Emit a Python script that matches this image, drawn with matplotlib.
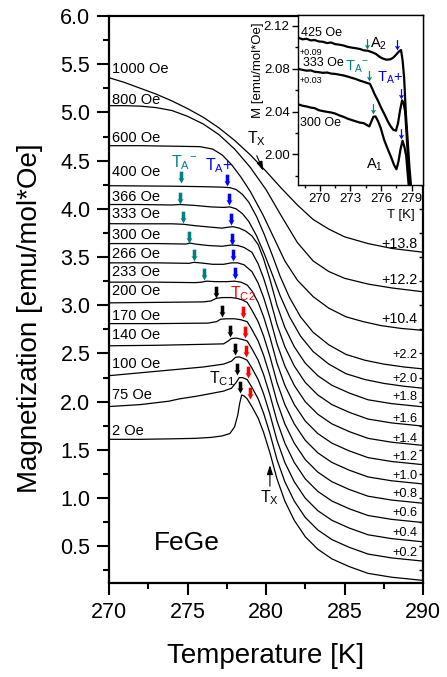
import matplotlib
matplotlib.use("Agg")
import matplotlib.pyplot as plt
from matplotlib.path import Path
from matplotlib.ticker import MultipleLocator, FormatStrFormatter

plt.rcParams['font.family'] = ['Liberation Sans', 'DejaVu Sans']
plt.rcParams['mathtext.default'] = 'regular'

# ---------------- main panel data: M/H vs T for each field ----------------
T_TAIL = [278.8, 279.1, 279.5, 279.85, 280.25, 280.7, 281.2, 281.8, 282.5,
          283.3, 284.2, 285.3, 286.5, 288.0, 290.0]

T_2 = [270, 272, 274, 275.5, 276.5, 277.2, 277.7, 278.0, 278.2, 278.32, 278.45, 278.6] + T_TAIL
M_2 = [1.61, 1.61, 1.615, 1.62, 1.63, 1.645, 1.67, 1.74, 1.86, 1.98, 2.07, 2.06,
       2.03, 1.95, 1.83, 1.68, 1.47, 1.20, 0.97, 0.77, 0.60, 0.47, 0.37, 0.29, 0.22, 0.18, 0.147]

T_75 = [270, 272, 273.8, 274.5, 275.5, 276.5, 277.3, 277.8, 278.1, 278.3, 278.5] + T_TAIL
M_75 = [1.95, 1.97, 2.005, 2.03, 2.055, 2.085, 2.11, 2.14, 2.20, 2.25, 2.25,
        2.23, 2.15, 2.03, 1.88, 1.67, 1.40, 1.17, 0.97, 0.80, 0.67, 0.57, 0.49, 0.42, 0.38, 0.347]

T_100 = [270, 272, 274, 276, 277.3, 277.8, 278.05, 278.3, 278.55] + T_TAIL
M_100 = [2.27, 2.30, 2.33, 2.36, 2.39, 2.42, 2.46, 2.465, 2.45,
         2.43, 2.35, 2.23, 2.08, 1.87, 1.60, 1.37, 1.17, 1.00, 0.87, 0.77, 0.69, 0.62, 0.58, 0.547]

T_140 = [270, 273, 276, 277.3, 277.55, 277.8, 278.1, 278.5] + T_TAIL
M_140 = [2.58, 2.585, 2.595, 2.60, 2.625, 2.655, 2.66, 2.645,
         2.63, 2.55, 2.43, 2.28, 2.07, 1.80, 1.57, 1.37, 1.20, 1.07, 0.97, 0.89, 0.82, 0.78, 0.747]

T_170 = [270, 273, 276.3, 276.85, 277.1, 277.5, 278.0, 278.4] + T_TAIL
M_170 = [2.81, 2.81, 2.815, 2.83, 2.855, 2.86, 2.86, 2.85,
         2.83, 2.75, 2.63, 2.48, 2.27, 2.00, 1.77, 1.57, 1.40, 1.27, 1.17, 1.09, 1.02, 0.98, 0.947]

T_200 = [270, 273, 276.0, 276.5, 276.8, 277.2, 277.8, 278.2, 278.5] + T_TAIL
M_200 = [3.025, 3.03, 3.035, 3.045, 3.07, 3.08, 3.08, 3.07, 3.055,
         3.03, 2.95, 2.83, 2.68, 2.47, 2.20, 1.97, 1.77, 1.60, 1.47, 1.37, 1.29, 1.22, 1.18, 1.147]

T_233 = [270, 273, 275.5, 275.9, 276.2, 276.8, 277.5, 278.0, 278.4, 278.8] + T_TAIL[1:]
M_233 = [3.24, 3.24, 3.235, 3.24, 3.25, 3.245, 3.245, 3.25, 3.24, 3.21,
         3.15, 3.03, 2.88, 2.67, 2.40, 2.17, 1.97, 1.80, 1.67, 1.57, 1.49, 1.42, 1.38, 1.347]

T_266 = [270, 273, 275.1, 275.4, 275.8, 276.6, 277.3, 277.8, 278.2, 278.6] + T_TAIL[1:]
M_266 = [3.44, 3.44, 3.435, 3.445, 3.44, 3.425, 3.425, 3.44, 3.44, 3.42,
         3.35, 3.23, 3.08, 2.87, 2.60, 2.37, 2.17, 2.00, 1.87, 1.77, 1.69, 1.62, 1.58, 1.547]

T_300 = [270, 273, 274.9, 275.15, 275.5, 276.3, 277.2, 277.8, 278.2, 278.6] + T_TAIL[1:]
M_300 = [3.64, 3.64, 3.635, 3.645, 3.635, 3.62, 3.612, 3.625, 3.62, 3.60,
         3.55, 3.43, 3.28, 3.07, 2.80, 2.57, 2.37, 2.20, 2.07, 1.97, 1.89, 1.82, 1.78, 1.747]

T_333 = [270, 272, 274, 274.75, 275.5, 276.5, 277.2, 277.6, 277.9, 278.3, 278.7, 279.1] + T_TAIL[2:]
M_333 = [3.846, 3.845, 3.845, 3.84, 3.825, 3.81, 3.80, 3.81, 3.815, 3.80, 3.77, 3.72,
         3.63, 3.48, 3.27, 3.00, 2.77, 2.57, 2.40, 2.27, 2.17, 2.09, 2.02, 1.98, 1.947]

T_366 = [270, 272, 274, 274.5, 275.5, 276.5, 277.3, 277.7, 278.1, 278.5, 278.9, 279.4,
         279.9, 280.4, 280.9, 281.5, 282.2, 283, 284, 285.1, 286.3, 287.5, 288.8, 290]
M_366 = [4.045, 4.045, 4.04, 4.045, 4.035, 4.02, 4.015, 4.02, 4.00, 3.95, 3.87, 3.72,
         3.53, 3.32, 3.10, 2.88, 2.68, 2.52, 2.39, 2.29, 2.23, 2.19, 2.16, 2.14]

T_400 = [270, 274, 276, 277.2, 277.7, 278.1, 278.5, 278.9, 279.4, 279.9, 280.4, 280.9,
         281.5, 282.2, 283, 284, 285.1, 286.3, 287.5, 288.8, 290]
M_400 = [4.24, 4.235, 4.23, 4.225, 4.22, 4.20, 4.15, 4.07, 3.92, 3.73, 3.52, 3.30,
         3.08, 2.88, 2.72, 2.59, 2.49, 2.43, 2.39, 2.36, 2.34]

T_600 = [270, 272, 274, 275.8, 276.6, 277.2, 277.8, 278.4, 279.0, 279.8, 280.5, 281.2,
         282, 283, 284, 285.1, 286.2, 287.3, 288.6, 290]
M_600 = [4.655, 4.655, 4.65, 4.645, 4.62, 4.56, 4.46, 4.33, 4.18, 3.94, 3.70, 3.46,
         3.26, 3.09, 2.97, 2.88, 2.83, 2.79, 2.76, 2.74]

T_800 = [270, 271, 272, 273, 274, 275, 276, 277, 278, 279, 280, 281, 282, 283, 284, 285, 286.5, 288, 290]
M_800 = [5.07, 5.07, 5.065, 5.05, 5.02, 4.96, 4.88, 4.77, 4.62, 4.43, 4.20, 3.92, 3.65,
         3.46, 3.35, 3.28, 3.22, 3.18, 3.14]

T_1000 = [270, 271, 272, 273, 274, 275, 276, 277, 278, 279, 280, 281, 282, 283, 284, 285, 286.5, 288, 290]
M_1000 = [5.36, 5.31, 5.25, 5.19, 5.12, 5.04, 4.95, 4.84, 4.71, 4.56, 4.39, 4.21, 4.04,
          3.89, 3.79, 3.71, 3.64, 3.59, 3.55]

field_labels = ['1000 Oe', '800 Oe', '600 Oe', '400 Oe', '366 Oe', '333 Oe', '300 Oe',
                '266 Oe', '233 Oe', '200 Oe', '170 Oe', '140 Oe', '100 Oe', '75 Oe', '2 Oe']
field_label_M = [5.454, 5.130, 4.734, 4.378, 4.119, 3.942, 3.730, 3.533, 3.343, 3.143,
                 2.894, 2.687, 2.394, 2.071, 1.697]

shift_labels = ['+13.8', '+12.2', '+10.4', '+2.2', '+2.0', '+1.8', '+1.6', '+1.4',
                '+1.2', '+1.0', '+0.8', '+0.6', '+0.4', '+0.2']
shift_label_M = [3.637, 3.257, 2.853, 2.480, 2.239, 2.049, 1.825, 1.618, 1.428, 1.228,
                 1.038, 0.842, 0.635, 0.434]

# transition markers (arrow tips)
TA_minus_T = [274.57, 274.52, 274.73, 275.11, 275.41, 276.05]
TA_minus_M = [4.265, 4.055, 3.855, 3.65, 3.455, 3.265]
TA_plus_T = [277.5, 277.66, 277.75, 277.85, 277.92, 278.03]
TA_plus_M = [4.24, 4.04, 3.83, 3.63, 3.455, 3.27]
TC1_T = [276.8, 277.18, 277.7, 278.03, 278.17, 278.34]
TC1_M = [3.08, 2.875, 2.675, 2.485, 2.28, 2.09]
TC2_T = [278.55, 278.66, 278.73, 278.87, 278.98]
TC2_M = [2.87, 2.665, 2.465, 2.25, 2.03]

# ---------------- inset data ----------------
Ti_425 = [267.9, 268.3, 268.7, 269.1, 269.5, 269.9, 270.3, 270.7, 271.1, 271.5, 271.9, 272.3,
          272.7, 273.1, 273.5, 273.9, 274.3, 274.7, 275.1, 275.5, 275.8, 276.1, 276.5, 276.9,
          277.2, 277.5, 277.75, 277.95, 278.1, 278.25, 278.43, 278.6, 278.75, 278.95]
Mi_425 = [2.109, 2.1075, 2.108, 2.1065, 2.1068, 2.1055, 2.1052, 2.104, 2.1045, 2.103, 2.1025,
          2.1018, 2.1005, 2.0998, 2.0992, 2.0985, 2.0972, 2.0968, 2.0955, 2.0938, 2.0915, 2.0898,
          2.0885, 2.0888, 2.0905, 2.0935, 2.0962, 2.0975, 2.088, 2.072, 2.037, 2.013, 1.991, 1.968]

Ti_333 = [267.9, 268.3, 268.7, 269.1, 269.5, 269.9, 270.3, 270.7, 271.1, 271.5, 271.9, 272.3,
          272.7, 273.1, 273.5, 273.9, 274.3, 274.7, 274.9, 275.1, 275.35, 275.7, 276.0, 276.35,
          276.65, 276.95, 277.2, 277.45, 277.65, 277.85, 278.05, 278.2, 278.35, 278.5, 278.65, 278.8]
Mi_333 = [2.0798, 2.079, 2.0782, 2.0785, 2.0772, 2.0768, 2.0762, 2.0765, 2.0755, 2.0752, 2.0745,
          2.0738, 2.0728, 2.0716, 2.0705, 2.069, 2.0678, 2.0665, 2.066, 2.062, 2.0565, 2.050,
          2.0436, 2.037, 2.031, 2.026, 2.023, 2.0222, 2.029, 2.041, 2.0505, 2.048, 2.040, 2.018,
          1.992, 1.969]

Ti_300 = [267.9, 268.3, 268.7, 269.1, 269.5, 269.9, 270.3, 270.7, 271.1, 271.5, 271.9, 272.3,
          272.7, 273.1, 273.5, 273.9, 274.3, 274.6, 274.85, 275.05, 275.25, 275.45, 275.7, 275.95,
          276.3, 276.65, 277.0, 277.25, 277.5, 277.7, 277.9, 278.1, 278.28, 278.45, 278.6, 278.72]
Mi_300 = [2.0467, 2.0455, 2.0448, 2.0438, 2.0432, 2.0413, 2.0405, 2.0398, 2.0392, 2.0382, 2.0365,
          2.0352, 2.0335, 2.0322, 2.0310, 2.0298, 2.0292, 2.0275, 2.0262, 2.031, 2.0352, 2.0355,
          2.031, 2.025, 2.0135, 2.005, 1.997, 1.9905, 1.9862, 1.9935, 2.005, 2.0128, 2.007, 1.999,
          1.982, 1.969]

inset_TAm_T = [274.64, 274.8, 275.19]
inset_TAm_M = [2.0985, 2.0685, 2.0375]
inset_TAp_T = [277.6, 277.95, 277.98]
inset_TAp_M = [2.0975, 2.0515, 2.0145]

TEAL = '#008080'
BLUE = '#0000ff'
RED = '#ff0000'

# down-pointing arrow glyph with its tip at the origin
arrow_verts = [(0, 0), (0.52, 0.95), (0.3, 0.82), (0.3, 2.0), (-0.3, 2.0),
               (-0.3, 0.82), (-0.52, 0.95), (0, 0)]
arrow_codes = [Path.MOVETO] + [Path.LINETO] * 6 + [Path.CLOSEPOLY]
down_arrow = Path(arrow_verts, arrow_codes)

# thinner variant with a narrow shaft for the inset
thin_verts = [(0, 0), (0.5, 0.9), (0.12, 0.75), (0.12, 2.0), (-0.12, 2.0),
              (-0.12, 0.75), (-0.5, 0.9), (0, 0)]
thin_arrow = Path(thin_verts, arrow_codes)

fig = plt.figure(figsize=(4.47, 6.77), dpi=100)
ax = fig.add_axes([0.24385, 0.13885, 0.70246, 0.83753])

curves = [(T_1000, M_1000), (T_800, M_800), (T_600, M_600), (T_400, M_400),
          (T_366, M_366), (T_333, M_333), (T_300, M_300), (T_266, M_266),
          (T_233, M_233), (T_200, M_200), (T_170, M_170), (T_140, M_140),
          (T_100, M_100), (T_75, M_75), (T_2, M_2)]
for T, M in curves:
    ax.plot(T, M, color='black', lw=0.9, solid_joinstyle='round')

for lab, m in zip(field_labels, field_label_M):
    ax.text(270.22, m, lab, fontsize=10.5, ha='left', va='center')

for lab, m in zip(shift_labels, shift_label_M):
    size = 10.3 if float(lab) > 5 else 9.2
    ax.text(289.62, m, lab, fontsize=size, ha='right', va='center')

ax.plot(TA_minus_T, TA_minus_M, ls='none', marker=down_arrow, ms=17, color=TEAL, mew=0)
ax.plot(TA_plus_T, TA_plus_M, ls='none', marker=down_arrow, ms=17, color=BLUE, mew=0)
ax.plot(TC1_T, TC1_M, ls='none', marker=down_arrow, ms=17, color='black', mew=0)
ax.plot(TC2_T, TC2_M, ls='none', marker=down_arrow, ms=17, color=RED, mew=0)

ax.text(274.78, 4.478, r'$T_{A}{}^{-}$', color=TEAL, fontsize=11.5, ha='center', va='center')
ax.text(277.0, 4.447, r'$T_{A}$+', color=BLUE, fontsize=11.5, ha='center', va='center')
ax.text(278.54, 3.122, r'$T_{C2}$', color=RED, fontsize=11.5, ha='center', va='center')
ax.text(277.2, 2.242, r'$T_{C1}$', color='black', fontsize=11.5, ha='center', va='center')

xarrow = dict(arrowstyle='-|>,head_width=0.18,head_length=0.55', color='black', lw=0.8,
              shrinkA=0, shrinkB=0, mutation_scale=10)
ax.annotate('', xy=(279.83, 4.395), xytext=(279.41, 4.551), arrowprops=xarrow)
ax.text(279.43, 4.727, r'$T_{X}$', fontsize=11.5, ha='center', va='center')
ax.annotate('', xy=(280.25, 1.342), xytext=(280.25, 1.124), arrowprops=xarrow)
ax.text(280.25, 1.0, r'$T_{X}$', fontsize=11.5, ha='center', va='center')

ax.text(274.95, 0.534, 'FeGe', fontsize=19, ha='center', va='center')

ax.set_xlim(270, 290)
ax.set_ylim(0.12, 6.0)
ax.xaxis.set_major_locator(MultipleLocator(5))
ax.xaxis.set_minor_locator(MultipleLocator(2.5))
ax.yaxis.set_major_locator(MultipleLocator(0.5))
ax.yaxis.set_minor_locator(MultipleLocator(0.25))
ax.tick_params(which='both', direction='out', top=False, right=False, width=1.5)
ax.tick_params(which='major', length=8.5, labelsize=15.5)
ax.tick_params(which='minor', length=4.5)
ax.tick_params(axis='y', pad=5)
ax.tick_params(axis='x', pad=5)
for s in ax.spines.values():
    s.set_linewidth(1.6)

ax.set_xlabel('Temperature [K]', fontsize=20)
ax.xaxis.set_label_coords(0.5, -0.105)
ax.set_ylabel('Magnetization [emu/mol*Oe]', fontsize=20, va='center')
ax.yaxis.set_label_coords(-0.252, 0.467)

# inward ticks on the right-hand frame
ax_r = ax.twinx()
ax_r.set_ylim(ax.get_ylim())
ax_r.yaxis.set_major_locator(MultipleLocator(0.5))
ax_r.yaxis.set_minor_locator(MultipleLocator(0.25))
ax_r.tick_params(which='both', direction='in', length=3, width=1.0, labelright=False)
for s in ax_r.spines.values():
    s.set_visible(False)

# ---------------- inset ----------------
axi = fig.add_axes([0.66667, 0.72674, 0.27964, 0.25111])
axi.set_facecolor('white')
axi.plot(Ti_425, Mi_425, color='black', lw=1.6)
axi.plot(Ti_333, Mi_333, color='black', lw=1.6)
axi.plot(Ti_300, Mi_300, color='black', lw=1.6)
axi.plot(inset_TAm_T, inset_TAm_M, ls='none', marker=thin_arrow, ms=15, color=TEAL, mew=0)
axi.plot(inset_TAp_T, inset_TAp_M, ls='none', marker=thin_arrow, ms=15, color=BLUE, mew=0)

axi.text(268.12, 2.113, '425 Oe', fontsize=9, ha='left', va='center')
axi.text(268.05, 2.0952, '+0.09', fontsize=6.5, ha='left', va='center')
axi.text(268.35, 2.0852, '333 Oe', fontsize=9, ha='left', va='center')
axi.text(268.05, 2.0694, '+0.03', fontsize=6.5, ha='left', va='center')
axi.text(268.05, 2.029, '300 Oe', fontsize=9, ha='left', va='center')
axi.text(275.74, 2.1033, r'$A_2$', fontsize=10.5, ha='center', va='center')
axi.text(275.35, 1.990, r'$A_1$', fontsize=10.5, ha='center', va='center')
axi.text(273.65, 2.0821, r'$T_{A}{}^{-}$', color=TEAL, fontsize=10.5, ha='center', va='center')
axi.text(276.89, 2.072, r'$T_{A}$+', color=BLUE, fontsize=10.5, ha='center', va='center')

axi.set_xlim(267.86, 280.1)
axi.set_ylim(1.9715, 2.1302)
axi.xaxis.set_major_locator(MultipleLocator(3))
axi.xaxis.set_minor_locator(MultipleLocator(1.5))
axi.yaxis.set_major_locator(MultipleLocator(0.04))
axi.yaxis.set_minor_locator(MultipleLocator(0.02))
axi.tick_params(which='both', direction='out', top=False, right=False, width=1.0,
                labelsize=9.5, pad=1.5)
axi.tick_params(which='major', length=4.5)
axi.tick_params(which='minor', length=2.5)
axi.yaxis.set_major_formatter(FormatStrFormatter('%.2f'))
for s in axi.spines.values():
    s.set_linewidth(1.0)
axi.set_xlabel('T [K]', fontsize=9.5, va='center')
axi.xaxis.set_label_coords(0.824, -0.175)
axi.set_ylabel('M [emu/mol*Oe]', fontsize=9.5, va='center')
axi.yaxis.set_label_coords(-0.324, 0.6725)

fig.savefig('out.png', dpi=100)
